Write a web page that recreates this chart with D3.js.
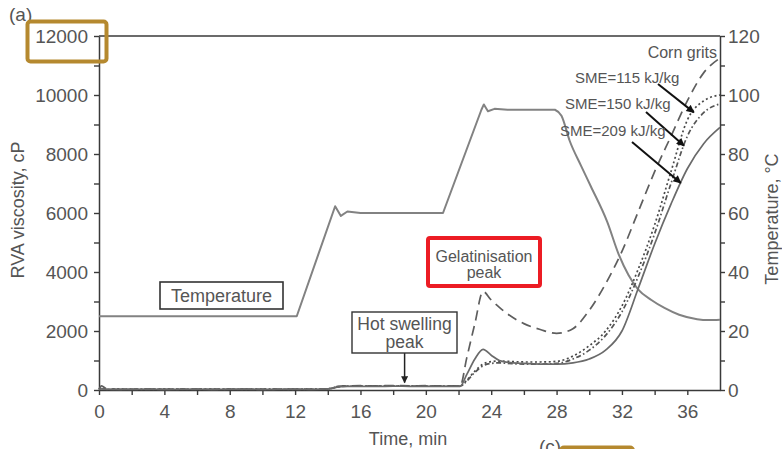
<!DOCTYPE html>
<html>
<head>
<meta charset="utf-8">
<script src="https://cdn.jsdelivr.net/npm/d3@7"></script>
<style>
  body { margin: 0; background: #fff; }
  svg { display: block; font-family: Arial, "Liberation Sans", Helvetica, sans-serif; }
</style>
</head>
<body>
<svg id="chart" width="782" height="449"></svg>
<script>
// RVA pasting profile: viscosity (cP, left axis) and temperature (°C, right axis) vs time (min)

const timeV = [0, 0.15, 0.5, 1, 2, 3, 4, 5, 6, 7, 8, 9, 10, 11, 12, 13, 14, 14.6, 15, 16, 17, 18, 19, 20, 21, 22.1,
               22.5, 23, 23.5, 24, 24.5, 25, 26, 27, 28, 29, 30, 31, 32, 33, 34, 35, 36, 37, 38];

const cornGrits = [20, 140, 30, 25, 20, 30, 20, 25, 30, 20, 25, 30, 20, 25, 30, 25, 40, 120, 140, 145, 140, 150, 140, 145, 140, 140,
                   1080, 2250, 3340, 3050, 2800, 2580, 2250, 2050, 1920, 2080, 2700, 3600, 4700, 6050, 7400, 8600, 9800, 10750, 11250];

const sme115 = [20, 60, 25, 30, 20, 25, 30, 20, 25, 30, 20, 25, 30, 20, 25, 30, 40, 110, 130, 135, 130, 140, 130, 135, 130, 130,
                330, 640, 880, 960, 980, 970, 950, 950, 970, 1150, 1500, 2000, 2850, 4100, 5600, 7400, 9150, 9800, 10000];

const sme150 = [20, 50, 20, 25, 30, 20, 25, 30, 20, 25, 30, 20, 25, 30, 20, 25, 35, 100, 125, 130, 135, 130, 135, 130, 135, 130,
                300, 600, 820, 900, 920, 900, 880, 880, 900, 1050, 1350, 1850, 2650, 3850, 5300, 7000, 8600, 9400, 9700];

const sme209 = [20, 40, 25, 20, 25, 30, 20, 25, 30, 20, 25, 30, 20, 25, 30, 20, 35, 100, 120, 125, 120, 130, 125, 120, 125, 125,
                520, 1050, 1380, 1180, 1000, 940, 900, 880, 880, 920, 1050, 1350, 2000, 3450, 4950, 6300, 7500, 8350, 8900];

// temperature programme: heating ramps and holds, then cooling
const timeT = [0, 12.1, 14.45, 14.8, 15.2, 16, 18, 20, 21.05, 23.4, 23.55, 23.8, 24.2, 25, 26, 27, 27.9, 28.3, 28.8,
               29.5, 30.1, 31.1, 31.8, 32.4, 33.0, 33.8, 34.6, 35.5, 36.6, 37.3, 38];
const tempC = [25, 25, 62.3, 59, 60.5, 60, 60, 60, 60, 95, 96.8, 94.5, 95.3, 95, 95, 95, 95, 93, 84.5,
               76, 69, 57, 46, 39, 34, 30.5, 27.8, 25.5, 24, 23.7, 23.8];
const coolingStart = 27.9;

const viscTicks = [0, 2000, 4000, 6000, 8000, 10000, 12000];
const tempTicks = [0, 20, 40, 60, 80, 100, 120];
const timeTicks = [0, 4, 8, 12, 16, 20, 24, 28, 32, 36];

const series = [
  { name: "Corn grits",    values: cornGrits, dash: "10,6",          color: "#5e5e5e" },
  { name: "SME=115 kJ/kg", values: sme115,    dash: "2,2.6",         color: "#4a4a4a" },
  { name: "SME=150 kJ/kg", values: sme150,    dash: "5,2.5,1.6,2.5", color: "#555" },
  { name: "SME=209 kJ/kg", values: sme209,    dash: null,            color: "#6a6a6a" }
];

const svg = d3.select("#chart");
const textColor = "#555";
const axisColor = "#3a3a3a";

const x = d3.scaleLinear().domain([0, 38]).range([99, 720]);
const yV = d3.scaleLinear().domain([0, 12000]).range([390, 36]);
const yT = d3.scaleLinear().domain([0, 120]).range([390, 36]);

// arrowhead markers
const defs = svg.append("defs");
defs.append("marker").attr("id", "headBig")
  .attr("viewBox", "0 0 10 10").attr("refX", 9).attr("refY", 5)
  .attr("markerUnits", "userSpaceOnUse").attr("markerWidth", 10).attr("markerHeight", 8)
  .attr("orient", "auto")
  .append("path").attr("d", "M0,0 L10,5 L0,10 z").attr("fill", "#111");
defs.append("marker").attr("id", "headSmall")
  .attr("viewBox", "0 0 10 10").attr("refX", 9).attr("refY", 5)
  .attr("markerUnits", "userSpaceOnUse").attr("markerWidth", 8).attr("markerHeight", 7)
  .attr("orient", "auto")
  .append("path").attr("d", "M0,0 L10,5 L0,10 z").attr("fill", "#222");

// axes
function styleAxis(g) {
  g.selectAll(".domain").attr("stroke", axisColor).attr("stroke-width", 1.5);
  g.selectAll(".tick line").attr("stroke", axisColor).attr("stroke-width", 1.4);
  g.selectAll(".tick text").attr("fill", textColor).style("font-size", "19px");
}

const left = svg.append("g").attr("transform", `translate(${x(0)},0)`)
  .call(d3.axisLeft(yV).tickValues(d3.range(0, 12001, 1000)).tickSize(5).tickSizeOuter(0).tickPadding(6)
    .tickFormat(d => viscTicks.includes(d) ? d : ""));
styleAxis(left);

const right = svg.append("g").attr("transform", `translate(${x(38)},0)`)
  .call(d3.axisRight(yT).tickValues(d3.range(0, 121, 10)).tickSize(5).tickSizeOuter(0).tickPadding(3)
    .tickFormat(d => tempTicks.includes(d) ? d : ""));
styleAxis(right);

const bottom = svg.append("g").attr("transform", `translate(0,${yV(0)})`)
  .call(d3.axisBottom(x).tickValues(d3.range(0, 37, 2)).tickSize(5).tickSizeOuter(0).tickPadding(10)
    .tickFormat(d => timeTicks.includes(d) ? d : ""));
styleAxis(bottom);

// top frame line
svg.append("line")
  .attr("x1", x(0)).attr("x2", x(38)).attr("y1", yV(12000)).attr("y2", yV(12000))
  .attr("stroke", axisColor).attr("stroke-width", 1.5);

// axis titles
svg.append("text").attr("transform", `translate(23.5,210) rotate(-90)`)
  .attr("text-anchor", "middle").attr("fill", textColor).style("font-size", "18px")
  .text("RVA viscosity, cP");
svg.append("text").attr("transform", `translate(777.5,219) rotate(-90)`)
  .attr("text-anchor", "middle").attr("fill", textColor).style("font-size", "18px")
  .text("Temperature, °C");
svg.append("text").attr("x", 408).attr("y", 445)
  .attr("text-anchor", "middle").attr("fill", textColor).style("font-size", "18px")
  .text("Time, min");

// temperature profile: straight ramps during heating, smooth during cooling
const tempPts = d3.zip(timeT, tempC);
const heatPts = tempPts.filter(d => d[0] <= coolingStart);
const coolPts = tempPts.filter(d => d[0] >= coolingStart);
const heatLine = d3.line().x(d => x(d[0])).y(d => yT(d[1])).curve(d3.curveLinear);
const coolLine = d3.line().x(d => x(d[0])).y(d => yT(d[1])).curve(d3.curveMonotoneX);
svg.append("path").attr("d", heatLine(heatPts) + coolLine(coolPts).replace(/^M/, "L"))
  .attr("fill", "none").attr("stroke", "#828282").attr("stroke-width", 2).attr("stroke-linejoin", "round");

// viscosity curves
const viscLine = d3.line().x(d => x(d[0])).y(d => yV(d[1])).curve(d3.curveMonotoneX);
svg.selectAll("path.visc").data(series).join("path")
  .attr("class", "visc")
  .attr("d", s => viscLine(d3.zip(timeV, s.values)))
  .attr("fill", "none")
  .attr("stroke", s => s.color)
  .attr("stroke-width", 1.7)
  .attr("stroke-dasharray", s => s.dash);

// annotation: Temperature box
svg.append("rect").attr("x", 160).attr("y", 282).attr("width", 123).attr("height", 27)
  .attr("fill", "#fff").attr("stroke", "#333").attr("stroke-width", 1.6);
svg.append("text").attr("x", 221.5).attr("y", 301.5).attr("text-anchor", "middle")
  .attr("fill", textColor).style("font-size", "18px").text("Temperature");

// annotation: hot swelling peak
svg.append("line")
  .attr("x1", x(18.7)).attr("x2", x(18.7)).attr("y1", 353).attr("y2", yV(250))
  .attr("stroke", "#222").attr("stroke-width", 1.5).attr("marker-end", "url(#headSmall)");
svg.append("rect").attr("x", 352).attr("y", 312).attr("width", 105).attr("height", 41)
  .attr("fill", "#fff").attr("stroke", "#333").attr("stroke-width", 1.4);
svg.append("text").attr("x", 404.5).attr("y", 329.5).attr("text-anchor", "middle")
  .attr("fill", textColor).style("font-size", "17.5px").text("Hot swelling");
svg.append("text").attr("x", 404.5).attr("y", 348).attr("text-anchor", "middle")
  .attr("fill", textColor).style("font-size", "17.5px").text("peak");

// annotation: gelatinisation peak (highlighted)
svg.append("rect").attr("x", 428).attr("y", 238).attr("width", 112).attr("height", 48).attr("rx", 2)
  .attr("fill", "#fff").attr("stroke", "#ec1c24").attr("stroke-width", 4);
svg.append("text").attr("x", 484).attr("y", 262).attr("text-anchor", "middle")
  .attr("fill", textColor).style("font-size", "16px").text("Gelatinisation");
svg.append("text").attr("x", 484).attr("y", 278).attr("text-anchor", "middle")
  .attr("fill", textColor).style("font-size", "16px").text("peak");

// series labels with arrows
svg.append("text").attr("x", 717).attr("y", 58).attr("text-anchor", "end")
  .attr("fill", textColor).style("font-size", "16px").text("Corn grits");

const labels = [
  { text: "SME=115 kJ/kg", tx: 575, ty: 83,    x1: 658, y1: 84,  t: 36.4, v: sme115 },
  { text: "SME=150 kJ/kg", tx: 565, ty: 108.5, x1: 646, y1: 112, t: 35.8, v: sme150 },
  { text: "SME=209 kJ/kg", tx: 560, ty: 135.5, x1: 632, y1: 142, t: 35.6, v: sme209 }
];
labels.forEach(l => {
  const tipV = d3.scaleLinear().domain(timeV).range(l.v)(l.t);
  svg.append("line")
    .attr("x1", l.x1).attr("y1", l.y1).attr("x2", x(l.t)).attr("y2", yV(tipV))
    .attr("stroke", "#111").attr("stroke-width", 2).attr("marker-end", "url(#headBig)");
  svg.append("text").attr("x", l.tx).attr("y", l.ty)
    .attr("fill", textColor).style("font-size", "15px").text(l.text);
});

// panel letters and highlight frames
svg.append("text").attr("x", 9).attr("y", 21).attr("fill", textColor).style("font-size", "19px").text("(a)");
svg.append("rect").attr("x", 27.5).attr("y", 21.5).attr("width", 79).attr("height", 40).attr("rx", 3)
  .attr("fill", "none").attr("stroke", "#b5892f").attr("stroke-width", 4);
svg.append("text").attr("x", 539).attr("y", 453).attr("fill", textColor).style("font-size", "19px").text("(c)");
svg.append("rect").attr("x", 561).attr("y", 447.5).attr("width", 72).attr("height", 20).attr("rx", 3)
  .attr("fill", "none").attr("stroke", "#b5892f").attr("stroke-width", 4);
</script>
</body>
</html>
